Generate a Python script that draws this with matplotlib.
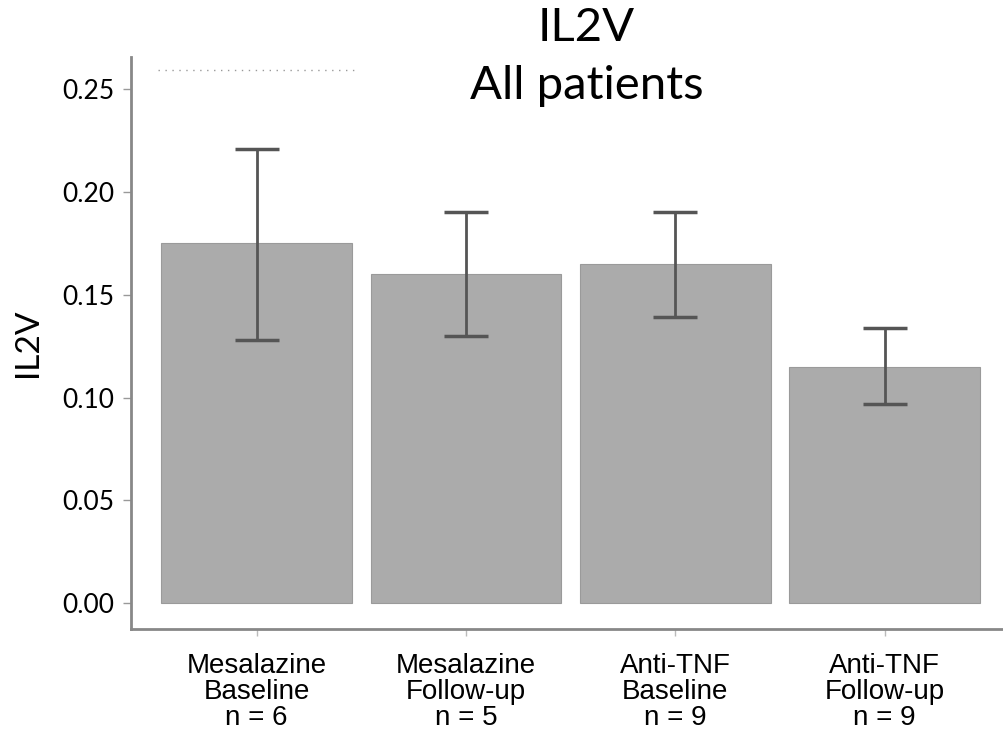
import matplotlib
matplotlib.use("Agg")
import matplotlib.pyplot as plt
import numpy as np

groups = ["Mesalazine\nBaseline\nn = 6", "Mesalazine\nFollow-up\nn = 5",
          "Anti-TNF\nBaseline\nn = 9", "Anti-TNF\nFollow-up\nn = 9"]
means = [0.175, 0.160, 0.165, 0.115]
err_low = [0.128, 0.130, 0.139, 0.097]
err_high = [0.221, 0.190, 0.190, 0.134]
yticks = [0.00, 0.05, 0.10, 0.15, 0.20, 0.25]

fig = plt.figure(figsize=(10.04, 7.38), dpi=100)
ax = fig.add_axes([0.1305, 0.1477, 0.8695, 0.775])

x = np.arange(len(groups))
lower = [m - lo for m, lo in zip(means, err_low)]
upper = [hi - m for m, hi in zip(means, err_high)]
ax.bar(x, means, width=0.91, color="#ababab", edgecolor="#9a9a9a", linewidth=0.8, zorder=2)
ax.errorbar(x, means, yerr=[lower, upper], fmt="none", ecolor="#555555",
            elinewidth=2, capsize=16, capthick=2.5, zorder=3)

# dotted line above the first group
ax.plot([-0.47, 0.47], [0.2592, 0.2592], linestyle=(0, (1, 4)), color="#999999", lw=1)

ax.set_xlim(-0.6, 3.57)
ax.set_ylim(-0.0126, 0.2656)
ax.set_yticks(yticks)
ax.set_yticklabels([f"{t:.2f}" for t in yticks], fontsize=19, family="Lato")
ax.set_xticks(x)
ax.set_xticklabels(groups, fontsize=20, family="Liberation Sans", linespacing=1.0)
ax.tick_params(axis="y", length=6, width=1, color="#999999", pad=6)
ax.tick_params(axis="x", length=5, width=1, color="#bbbbbb", pad=12)
ax.set_ylabel("IL2V", fontsize=24, family="Lato", labelpad=14)

for side in ["top", "right"]:
    ax.spines[side].set_visible(False)
for side in ["left", "bottom"]:
    ax.spines[side].set_color("#888888")
    ax.spines[side].set_linewidth(2)

fig.text(0.584, 0.99, "IL2V\nAll patients", ha="center", va="top",
         fontsize=34, family="Lato", linespacing=1.45)

fig.savefig("out.png", dpi=100)
